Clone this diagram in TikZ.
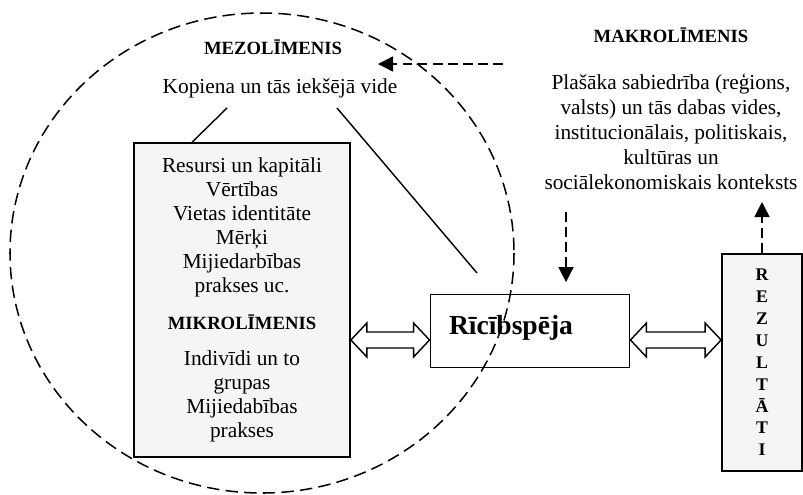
\documentclass[tikz,border=0pt]{standalone}
\usepackage{fontspec}
\setmainfont{Liberation Serif}
\usetikzlibrary{shapes,calc,arrows.meta}

\newcommand{\fatarrow}[2]{\draw[fat] (#1) -- ++(16,-17) -- ++(0,9) -- ($(#2)+(-16,-8)$) -- ++(0,-9) -- (#2) -- ++(-16,17) -- ++(0,-9) -- ($(#1)+(16,8)$) -- ++(0,9) -- cycle;}

\begin{document}
\begin{tikzpicture}[x=0.5625pt,y=-0.5625pt]
\tikzstyle{level}=[font=\fontsize{10.5}{12}\selectfont\bfseries,inner sep=0pt]
\tikzstyle{plain}=[font=\fontsize{12}{14}\selectfont,align=center,inner sep=0pt]
\tikzstyle{greybox}=[rectangle,draw,line width=1pt,fill=black!4]
\tikzstyle{dasharrow}=[dash pattern=on 5.5pt off 3pt,line width=0.85pt,-{Triangle[length=8.5pt,width=8.5pt]}]
\tikzstyle{fat}=[line width=0.8pt,fill=white,line join=miter]

\useasboundingbox (0,0) rectangle (803,494);

%mezo level.
\node[level] (mezo) at (273,47) {MEZOLĪMENIS};
\node[plain] (kopiena) at (280,88) {Kopiena un tās iekšējā vide};

\node[greybox,minimum width=121.5pt,minimum height=176.6pt,
      font=\fontsize{12}{13.5}\selectfont,align=center] (res) at (242,300)
  {Resursi un kapitāli\\Vērtības\\Vietas identitāte\\Mērķi\\Mijiedarbības\\prakses uc.\\[7pt]
   {\fontsize{10.5}{13.5}\selectfont\bfseries MIKROLĪMENIS}\\[7pt]
   Indivīdi un to\\grupas\\Mijiedabības\\prakses};

\node[rectangle,draw,line width=1pt,minimum width=112pt,minimum height=41pt] (ric) at (530,331) {};
\node[font=\fontsize{15.5}{17}\selectfont\bfseries,inner sep=0pt] (ricT) at (511,328) {Rīcībspēja};

\node[greybox,minimum width=45pt,minimum height=122pt,
      font=\fontsize{10}{12.3}\selectfont\bfseries,align=center] (rez) at (762,362.5)
  {R\\E\\Z\\U\\L\\T\\Ā\\T\\I};

%makro level.
\node[level] (makro) at (671,35) {MAKROLĪMENIS};
\node[plain] (makroT) at (671,132)
  {Plašāka sabiedrība (reģions,\\valsts) un tās dabas vides,\\institucionālais, politiskais,\\kultūras un\\sociālekonomiskais konteksts};

\coordinate (k1) at (227,108);
\coordinate (k2) at (337,108);
\coordinate (r1) at (477,273);
\draw[line width=0.8pt] (k1) -- ($(res.north west)+(59,0)$);
\draw[line width=0.8pt] (k2) -- (r1);

\coordinate (m1) at (503,64);
\coordinate (m2) at (378,64);
\draw[dasharrow] (m1) -- (m2);
\coordinate (m3) at (566,212);
\draw[dasharrow,shorten >=6.5pt] (m3) -- (m3 |- ric.north);
\coordinate (m4) at (762,202);
\draw[dasharrow] (rez.north) -- (m4);

\coordinate (lvl) at (0,340);
\coordinate (a1) at (res.east |- lvl);
\coordinate (b1) at (ric.west |- lvl);
\coordinate (a2) at (ric.east |- lvl);
\coordinate (b2) at (rez.west |- lvl);
\fatarrow{a1}{b1}
\fatarrow{a2}{b2}

%circle.
\draw[dash pattern=on 7pt off 3.5pt,line width=0.85pt] (262,253) ellipse [x radius=252,y radius=240];

\end{tikzpicture}
\end{document}
